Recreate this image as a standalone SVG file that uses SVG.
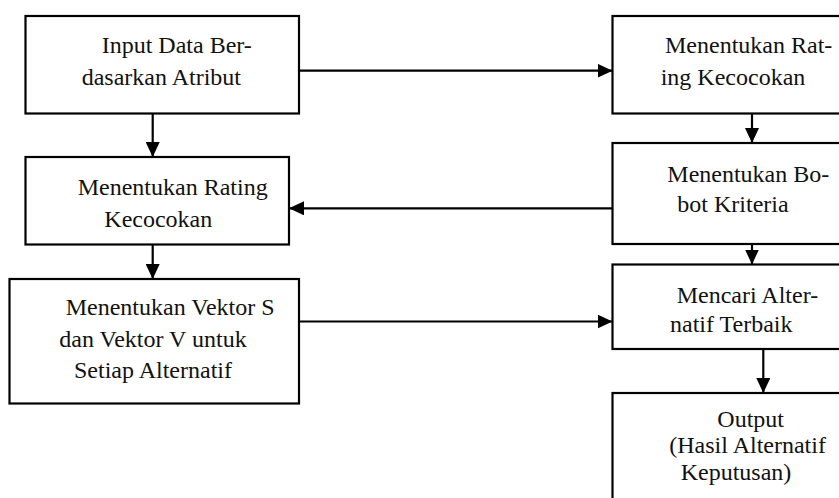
<svg xmlns="http://www.w3.org/2000/svg" width="839" height="498" viewBox="0 0 839 498">
<style>
.box{fill:#fff;stroke:#000;stroke-width:2.2}
.t{font-family:"Liberation Serif","Times New Roman",serif;font-size:24px;fill:#111}
.c{stroke:#000;stroke-width:2.2;fill:none;marker-end:url(#ah)}
</style>
<defs>
<marker id="ah" viewBox="0 0 15 14" refX="15" refY="7" markerWidth="15" markerHeight="14" markerUnits="userSpaceOnUse" orient="auto">
<path d="M0,0 L15,7 L0,14 Z" fill="#000"/>
</marker>
</defs>
<rect width="839" height="498" fill="#fff"/>
<g id="n1"><rect class="box" x="25.5" y="16" width="273.5" height="97.5"/>
<text class="t" x="101.7" y="53">Input Data Ber-</text><text class="t" x="81.7" y="85">dasarkan Atribut</text></g>
<g id="n2"><rect class="box" x="25.5" y="157" width="263.5" height="87.5"/>
<text class="t" x="77.7" y="195">Menentukan Rating</text><text class="t" x="104.3" y="226.7">Kecocokan</text></g>
<g id="n3"><rect class="box" x="9.5" y="279" width="289.5" height="124.5"/>
<text class="t" x="65.7" y="315">Menentukan Vektor S</text><text class="t" x="59.3" y="346.7">dan Vektor V untuk</text><text class="t" x="74" y="378.3">Setiap Alternatif</text></g>
<g id="n4"><rect class="box" x="612.5" y="16" width="240" height="97.5"/>
<text class="t" x="665" y="53">Menentukan Rat-</text><text class="t" x="660.7" y="85">ing Kecocokan</text></g>
<g id="n5"><rect class="box" x="612.5" y="143" width="240" height="101"/>
<text class="t" x="667.3" y="182">Menentukan Bo-</text><text class="t" x="677.3" y="212">bot Kriteria</text></g>
<g id="n6"><rect class="box" x="612.5" y="264.5" width="240" height="84.5"/>
<text class="t" x="676.7" y="303">Mencari Alter-</text><text class="t" x="670" y="331.7">natif Terbaik</text></g>
<g id="n7"><rect class="box" x="612.5" y="393" width="240" height="120"/>
<text class="t" x="717.3" y="426.7">Output</text><text class="t" x="669.3" y="453.3">(Hasil Alternatif</text><text class="t" x="680.7" y="480">Keputusan)</text></g>
<g id="connectors">
<line class="c" x1="152.7" y1="113.5" x2="152.7" y2="157"/>
<line class="c" x1="299" y1="70.7" x2="612.5" y2="70.7"/>
<line class="c" x1="752" y1="113.5" x2="752" y2="143"/>
<line class="c" x1="612.5" y1="208.3" x2="289" y2="208.3"/>
<line class="c" x1="152.7" y1="244.5" x2="152.7" y2="279"/>
<line class="c" x1="299" y1="321.5" x2="612.5" y2="321.5"/>
<line class="c" x1="752" y1="244.5" x2="752" y2="264.5"/>
<line class="c" x1="763.3" y1="349" x2="763.3" y2="393"/>
</g>
</svg>
